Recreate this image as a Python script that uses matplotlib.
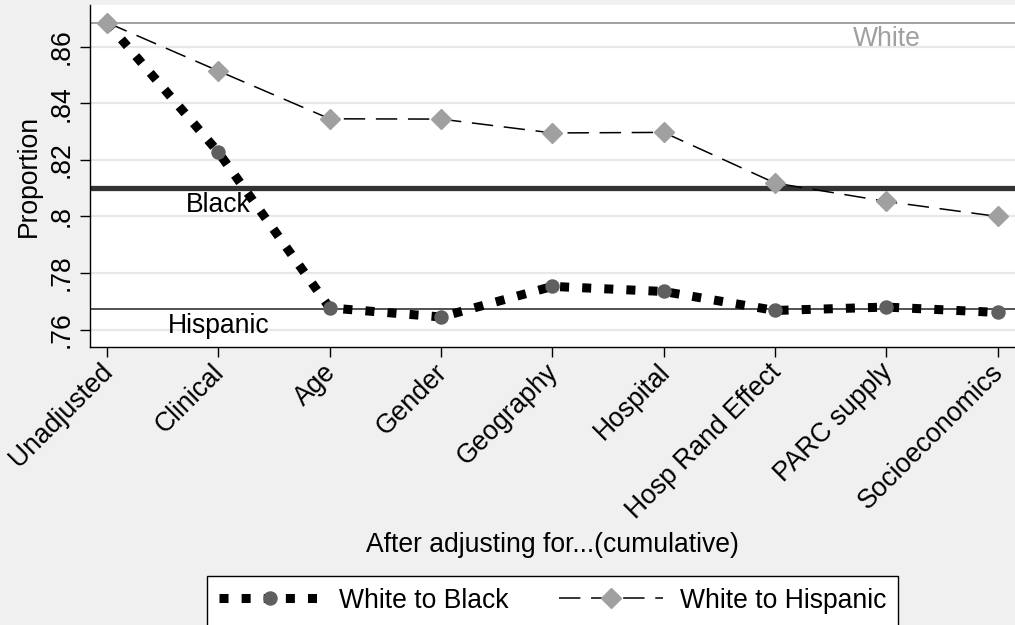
import matplotlib.pyplot as plt
import numpy as np
from matplotlib.lines import Line2D

plt.rcParams['font.family'] = ['Liberation Sans', 'DejaVu Sans']

steps = ["Unadjusted", "Clinical", "Age", "Gender", "Geography", "Hospital",
         "Hosp Rand Effect", "PARC supply", "Socioeconomics"]
to_black = [0.8685, 0.8227, 0.7677, 0.7645, 0.7753, 0.7735, 0.7668, 0.7680, 0.7661]
to_hispanic = [0.8685, 0.8514, 0.8345, 0.8344, 0.8295, 0.8297, 0.8118, 0.8053, 0.8000]
ref_lines = {"White": 0.8685, "Black": 0.8100, "Hispanic": 0.7673}
yticks = [0.76, 0.78, 0.80, 0.82, 0.84, 0.86]
ytick_labels = [".76", ".78", ".8", ".82", ".84", ".86"]

fs = 19.1
bg = "#f0f0f0"

fig = plt.figure(figsize=(10.15, 6.25), dpi=100, facecolor=bg)
ax = fig.add_axes([90 / 1015, 1 - 346.7 / 625, 1 - 90 / 1015, (346.7 - 5) / 625])
ax.set_facecolor("white")

x = np.arange(len(steps))
ax.set_xlim(-0.153, 8.155)
ax.set_ylim(0.754, 0.8747)

# grid
for t in yticks:
    ax.axhline(t, color="#e8e8e8", lw=1.6, zorder=0)

# reference lines
ax.axhline(ref_lines["White"], color="#a0a0a0", lw=1.4, zorder=1)
ax.axhline(ref_lines["Black"], color="#333333", lw=3.8, zorder=1)
ax.axhline(ref_lines["Hispanic"], color="#222222", lw=1.1, zorder=1)

ax.text(7, 0.8602, "White", color="#a0a0a0", fontsize=fs, ha="center", va="baseline")
ax.text(1, 0.8017, "Black", color="black", fontsize=fs, ha="center", va="baseline")
ax.text(1, 0.7589, "Hispanic", color="black", fontsize=fs, ha="center", va="baseline")

dot_style = (0, (1, 1.45))
ax.plot(x, to_black, color="black", lw=6.5, linestyle=dot_style,
        dash_capstyle="butt", zorder=3)
ax.plot(x, to_black, linestyle="none", marker="o", ms=9.4, color="#5f5f5f",
        mec="#5f5f5f", zorder=4)

ax.plot(x, to_hispanic, color="black", lw=1.1, linestyle=(0, (14, 7)), zorder=3)
ax.plot(x, to_hispanic, linestyle="none", marker="D", ms=10, color="#a0a0a0",
        mec="#a0a0a0", zorder=5)

for s in ["top", "right"]:
    ax.spines[s].set_visible(False)
for s in ["left", "bottom"]:
    ax.spines[s].set_linewidth(1.0)
ax.set_xticks(x)
ax.set_xticklabels(steps, rotation=45, ha="right", va="center_baseline",
                   rotation_mode="anchor", fontsize=fs)
ax.set_yticks(yticks)
ax.set_yticklabels(ytick_labels, rotation=90, va="center", fontsize=fs)
ax.tick_params(axis="both", length=7, width=1, direction="out", pad=4)
ax.tick_params(axis="x", pad=7)

ax.set_ylabel("Proportion", fontsize=fs)
ax.yaxis.set_label_coords(-0.052, 0.5)
fig.text(552.5 / 1015, 1 - 545 / 625, "After adjusting for...(cumulative)",
         fontsize=fs, ha="center", va="center")

handles = [
    Line2D([], [], color="black", lw=6.5, linestyle=dot_style, dash_capstyle="butt",
           marker="o", ms=9.4, mfc="#5f5f5f", mec="#5f5f5f"),
    Line2D([], [], color="black", lw=1.1, linestyle=(0, (14, 7)),
           marker="D", ms=10, mfc="#a0a0a0", mec="#a0a0a0"),
]
leg = fig.legend(handles, ["White to Black", "White to Hispanic"], ncol=2,
                 loc="upper center", bbox_to_anchor=(552.5 / 1015, 1 - 575.7 / 625),
                 fontsize=fs, frameon=True, fancybox=False, edgecolor="black",
                 handlelength=3.9, handletextpad=0.65, columnspacing=1.9,
                 borderpad=0.45, borderaxespad=0)
leg.get_frame().set_linewidth(1.0)
leg.get_frame().set_facecolor("white")
leg.get_frame().set_alpha(1)

fig.savefig("out.png", dpi=100, facecolor=bg)
